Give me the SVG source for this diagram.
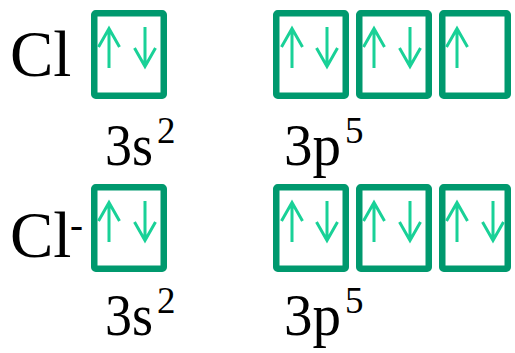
<svg xmlns="http://www.w3.org/2000/svg" width="515" height="353" viewBox="0 0 515 353">
<defs>
<style>
.box{fill:none;stroke:#00996e;stroke-width:6.5;}
.arr{fill:none;stroke:#19d197;stroke-width:3;stroke-linejoin:miter;}
.t{font-family:"Liberation Serif","Times New Roman",serif;fill:#000;}
.cl{font-size:65px;}
.big{font-size:60px;}
.sup{font-size:37px;}
</style>
<g id="up"><path class="arr" d="M0,40 V0 M-10.5,19 L0,0.5 L10.5,19"/></g>
<g id="down"><path class="arr" d="M0,0 V40 M-10.5,21 L0,39.5 L10.5,21"/></g>
</defs>
<rect width="515" height="353" fill="#fff"/>
<g id="label-cl"><text class="t cl" x="10" y="76">Cl</text></g>
<g id="label-clminus"><text class="t cl" x="10" y="257">Cl</text><text class="t" font-size="40" x="70" y="238" textLength="13" lengthAdjust="spacingAndGlyphs">-</text></g>
<g id="cl-3s"><rect class="box" x="94.25" y="13.25" width="69.5" height="82.5" rx="1.5"/><use href="#up" x="109" y="28"/><use href="#down" x="145" y="27"/></g>
<g id="cl-3p-1"><rect class="box" x="276.25" y="13.25" width="69.5" height="82.5" rx="1.5"/><use href="#up" x="292" y="28"/><use href="#down" x="327" y="27"/></g>
<g id="cl-3p-2"><rect class="box" x="359.25" y="13.25" width="69.5" height="82.5" rx="1.5"/><use href="#up" x="374" y="28"/><use href="#down" x="410" y="27"/></g>
<g id="cl-3p-3"><rect class="box" x="442.25" y="13.25" width="65.5" height="82.5" rx="1.5"/><use href="#up" x="457" y="28"/></g>
<g id="cl-3s-label"><text class="t big" x="105" y="165" textLength="48" lengthAdjust="spacingAndGlyphs">3s</text><text class="t sup" x="157" y="143">2</text></g>
<g id="cl-3p-label"><text class="t big" x="284" y="165" textLength="57" lengthAdjust="spacingAndGlyphs">3p</text><text class="t sup" x="345" y="143">5</text></g>
<g id="clm-3s"><rect class="box" x="94.25" y="187.25" width="69.5" height="81.5" rx="1.5"/><use href="#up" x="109" y="202"/><use href="#down" x="145" y="201"/></g>
<g id="clm-3p-1"><rect class="box" x="276.25" y="187.25" width="69.5" height="81.5" rx="1.5"/><use href="#up" x="292" y="202"/><use href="#down" x="327" y="201"/></g>
<g id="clm-3p-2"><rect class="box" x="359.25" y="187.25" width="69.5" height="81.5" rx="1.5"/><use href="#up" x="374" y="202"/><use href="#down" x="410" y="201"/></g>
<g id="clm-3p-3"><rect class="box" x="442.25" y="187.25" width="65.5" height="81.5" rx="1.5"/><use href="#up" x="457" y="202"/><use href="#down" x="493" y="201"/></g>
<g id="clm-3s-label"><text class="t big" x="105" y="335" textLength="48" lengthAdjust="spacingAndGlyphs">3s</text><text class="t sup" x="157" y="313">2</text></g>
<g id="clm-3p-label"><text class="t big" x="284" y="335" textLength="57" lengthAdjust="spacingAndGlyphs">3p</text><text class="t sup" x="345" y="313">5</text></g>
<g id="connectors"></g>
</svg>
